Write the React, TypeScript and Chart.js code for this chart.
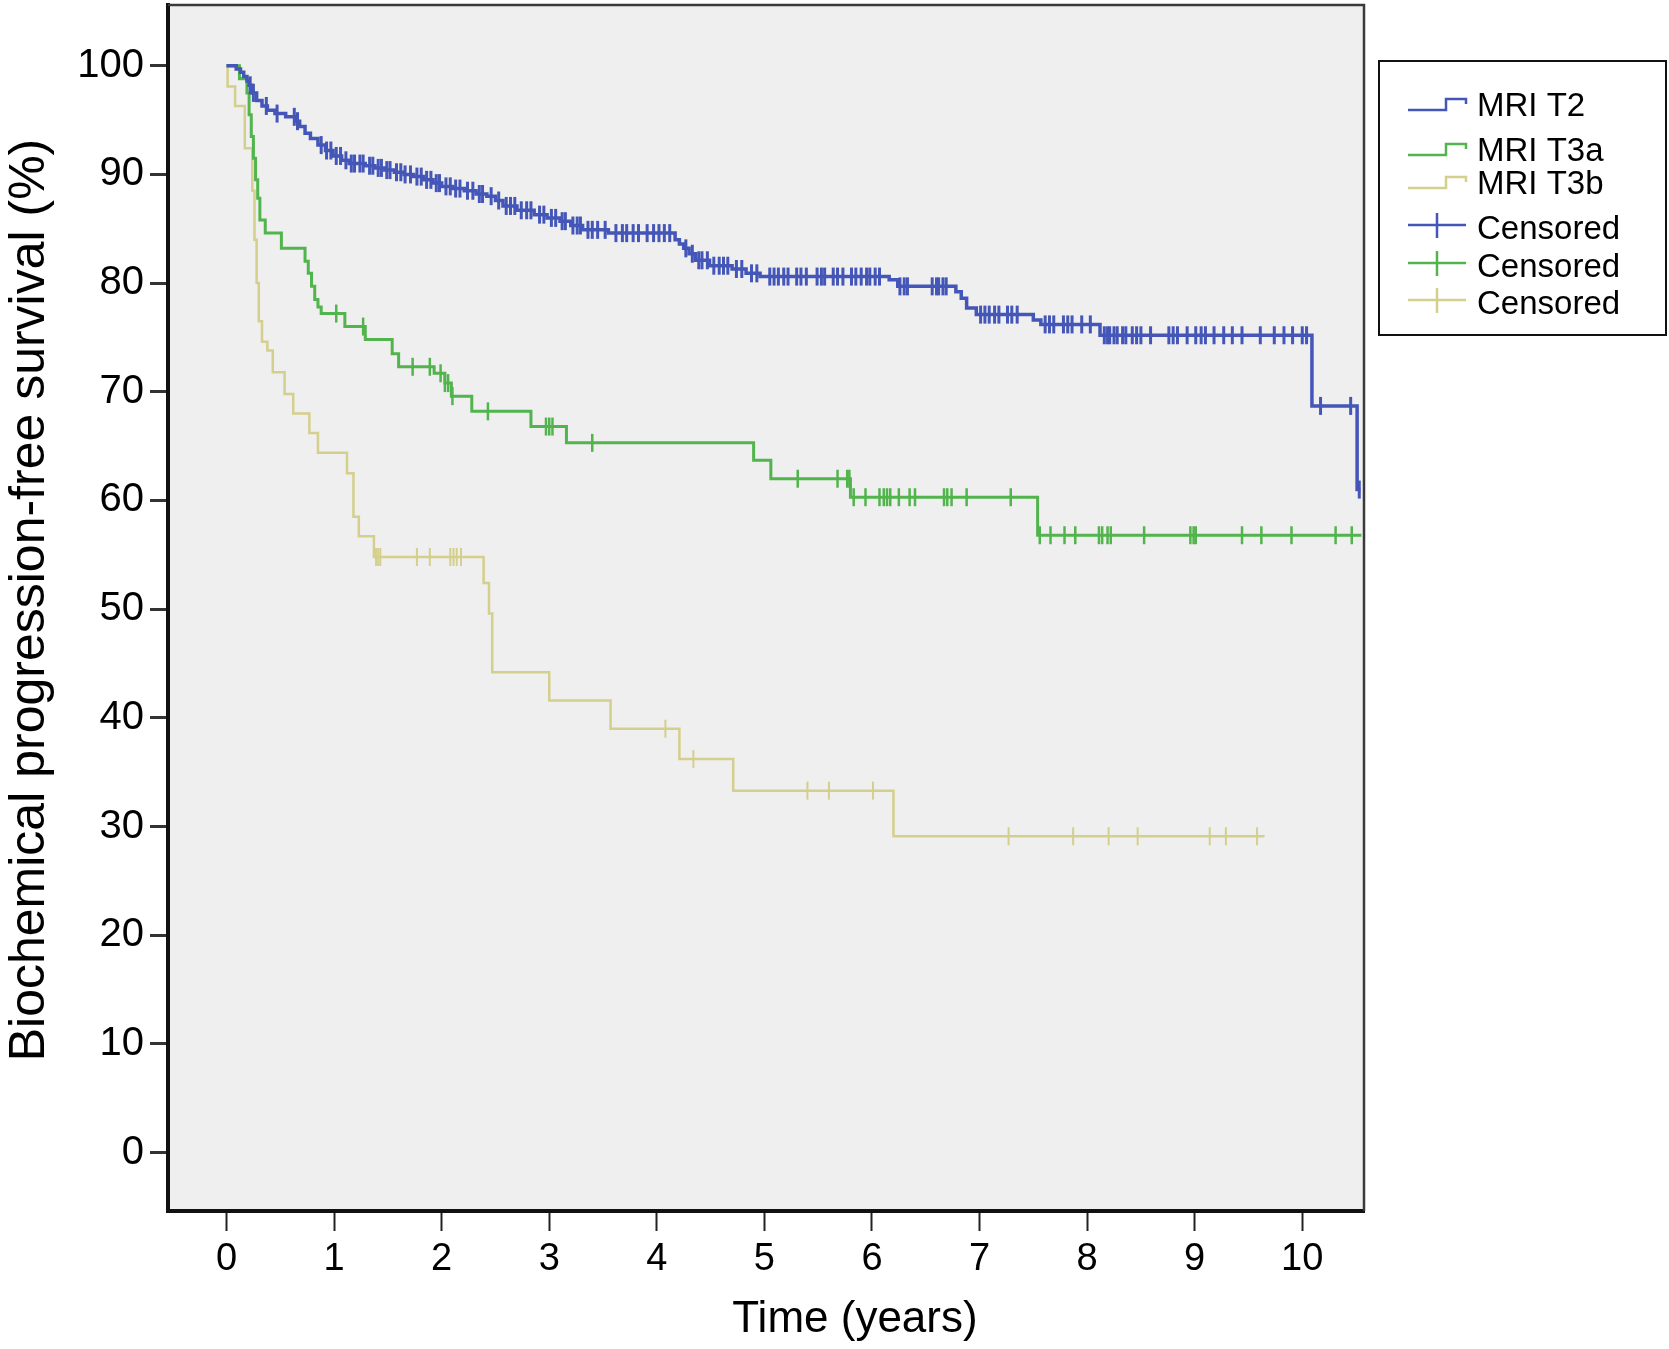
import { useEffect, useRef } from "react";
import { Chart, registerables } from "chart.js";

Chart.register(...registerables);

// Kaplan-Meier steps: time (years) where survival drops, and the new value (%)
const t2Times = [0, 0.09, 0.13, 0.16, 0.19, 0.21, 0.24, 0.28, 0.33, 0.38, 0.45, 0.55, 0.64, 0.68, 0.73, 0.78, 0.85, 0.92, 0.99, 1.07, 1.14, 1.29, 1.38, 1.47, 1.56, 1.65, 1.74, 1.83, 1.92, 2.0, 2.1, 2.21, 2.32, 2.42, 2.5, 2.57, 2.7, 2.86, 2.98, 3.1, 3.2, 3.31, 3.55, 4.17, 4.21, 4.25, 4.3, 4.36, 4.49, 4.7, 4.83, 4.96, 6.16, 6.24, 6.78, 6.83, 6.88, 6.97, 7.5, 7.57, 8.12, 10.09, 10.51];
const t2Values = [100, 99.7, 99.4, 99.0, 98.6, 98.2, 97.5, 96.8, 96.3, 95.9, 95.6, 95.3, 94.9, 94.4, 93.8, 93.3, 92.7, 92.2, 91.7, 91.3, 91.0, 90.8, 90.6, 90.4, 90.2, 90.0, 89.8, 89.5, 89.2, 88.9, 88.7, 88.5, 88.2, 88.0, 87.6, 87.1, 86.7, 86.3, 86.0, 85.7, 85.3, 84.9, 84.6, 84.0, 83.6, 83.2, 82.7, 82.1, 81.6, 81.3, 80.9, 80.6, 80.3, 79.7, 79.2, 78.6, 77.7, 77.1, 76.6, 76.2, 75.2, 68.7, 61.0];
const t2End = 10.54;

const t3aTimes = [0, 0.12, 0.19, 0.21, 0.23, 0.25, 0.27, 0.29, 0.31, 0.36, 0.51, 0.73, 0.76, 0.79, 0.82, 0.85, 0.88, 1.1, 1.29, 1.54, 1.6, 1.93, 2.03, 2.09, 2.28, 2.83, 3.16, 4.9, 5.06, 5.8, 7.54];
const t3aValues = [100, 98.8, 97.5, 95.5, 93.5, 91.5, 89.5, 87.8, 85.8, 84.6, 83.2, 82.0, 80.9, 79.7, 78.5, 77.8, 77.2, 76.0, 74.8, 73.5, 72.3, 71.7, 70.8, 69.6, 68.2, 66.8, 65.3, 63.7, 62.0, 60.3, 56.8];
const t3aEnd = 10.55;

const t3bTimes = [0, 0.01, 0.08, 0.17, 0.24, 0.26, 0.28, 0.3, 0.33, 0.38, 0.43, 0.54, 0.62, 0.77, 0.85, 1.12, 1.18, 1.23, 1.37, 2.39, 2.44, 2.47, 3.0, 3.57, 4.21, 4.71, 6.2];
const t3bValues = [100, 98.1, 96.3, 92.4, 88.5, 84.0, 80.0, 76.5, 74.6, 73.8, 71.8, 69.8, 68.0, 66.2, 64.4, 62.5, 58.5, 56.7, 54.8, 52.4, 49.6, 44.2, 41.6, 39.0, 36.2, 33.3, 29.1];
const t3bEnd = 9.65;

// Censored observations (years)
const t2Censored = [0.22, 0.25, 0.37, 0.47, 0.63, 0.66, 0.88, 0.93, 0.97, 1.02, 1.06, 1.11, 1.16, 1.19, 1.24, 1.27, 1.33, 1.36, 1.41, 1.44, 1.49, 1.52, 1.58, 1.62, 1.66, 1.71, 1.77, 1.81, 1.86, 1.9, 1.95, 1.98, 2.04, 2.08, 2.13, 2.17, 2.24, 2.29, 2.35, 2.38, 2.46, 2.53, 2.6, 2.64, 2.68, 2.74, 2.79, 2.83, 2.91, 2.95, 3.02, 3.06, 3.12, 3.15, 3.22, 3.26, 3.29, 3.36, 3.4, 3.45, 3.52, 3.62, 3.68, 3.72, 3.78, 3.83, 3.91, 3.97, 4.02, 4.07, 4.12, 4.27, 4.33, 4.39, 4.42, 4.47, 4.53, 4.58, 4.62, 4.66, 4.74, 4.79, 4.88, 4.93, 5.05, 5.09, 5.13, 5.18, 5.22, 5.3, 5.34, 5.39, 5.49, 5.53, 5.56, 5.64, 5.68, 5.73, 5.81, 5.85, 5.9, 5.95, 5.98, 6.03, 6.07, 6.26, 6.3, 6.33, 6.56, 6.6, 6.62, 6.66, 6.69, 7.01, 7.05, 7.09, 7.14, 7.18, 7.26, 7.3, 7.35, 7.61, 7.65, 7.69, 7.78, 7.82, 7.86, 7.95, 8.03, 8.16, 8.19, 8.21, 8.25, 8.28, 8.33, 8.36, 8.42, 8.46, 8.5, 8.59, 8.76, 8.8, 8.84, 8.93, 9.01, 9.06, 9.1, 9.18, 9.27, 9.35, 9.44, 9.61, 9.74, 9.83, 9.91, 10.0, 10.04, 10.17, 10.45, 10.53];
const t3aCensored = [1.02, 1.27, 1.73, 1.89, 1.99, 2.03, 2.06, 2.1, 2.43, 2.97, 3.0, 3.03, 3.4, 5.31, 5.68, 5.77, 5.79, 5.83, 5.94, 6.07, 6.11, 6.14, 6.17, 6.25, 6.35, 6.4, 6.67, 6.7, 6.74, 6.88, 7.29, 7.56, 7.66, 7.79, 7.89, 8.11, 8.14, 8.19, 8.22, 8.53, 8.96, 8.99, 9.01, 9.44, 9.62, 9.9, 10.31, 10.46];
const t3bCensored = [1.39, 1.41, 1.43, 1.77, 1.89, 2.08, 2.11, 2.14, 2.18, 4.08, 4.34, 5.4, 5.6, 6.01, 7.27, 7.87, 8.2, 8.47, 9.14, 9.29, 9.58];

const seriesNames = ["MRI T2", "MRI T3a", "MRI T3b"];
const seriesColors = ["#4456b7", "#52b44c", "#d4cf8c"];
const xTicks = [0, 1, 2, 3, 4, 5, 6, 7, 8, 9, 10];
const yTicks = [0, 10, 20, 30, 40, 50, 60, 70, 80, 90, 100];

const FONT = "'Liberation Sans', Arial, Helvetica, sans-serif";

const stepData = (times: number[], values: number[], end: number) => [
  ...times.map((t, i) => ({ x: t, y: values[i] })),
  { x: end, y: values[values.length - 1] },
];

const valueAt = (times: number[], values: number[], t: number) => {
  let v = values[0];
  for (let i = 0; i < times.length; i++) if (times[i] <= t) v = values[i];
  return v;
};

const censorData = (times: number[], values: number[], cens: number[]) =>
  cens.map((t) => ({ x: t, y: valueAt(times, values, t) }));

// background, top/right frame, axis titles and the SPSS-style legend box
const decorPlugin = {
  id: "kmDecor",
  beforeDraw(chart: Chart) {
    const { ctx, chartArea: a } = chart;
    ctx.save();
    ctx.fillStyle = "#efefef";
    ctx.fillRect(a.left, a.top, a.right - a.left, a.bottom - a.top);
    ctx.restore();
  },
  afterDraw(chart: Chart) {
    const { ctx, chartArea: a } = chart;
    ctx.save();
    ctx.strokeStyle = "#3a3a3a";
    ctx.lineWidth = 2.5;
    ctx.beginPath();
    ctx.moveTo(a.left, a.top);
    ctx.lineTo(a.right, a.top);
    ctx.lineTo(a.right, a.bottom);
    ctx.stroke();

    // axis titles
    ctx.fillStyle = "#000";
    ctx.font = `50px ${FONT}`;
    ctx.textAlign = "center";
    ctx.textBaseline = "middle";
    ctx.translate(30, 600);
    ctx.rotate(-Math.PI / 2);
    ctx.fillText("Biochemical progression-free survival (%)", 0, 0);
    ctx.rotate(Math.PI / 2);
    ctx.translate(-30, -600);
    ctx.font = `44px ${FONT}`;
    ctx.textBaseline = "alphabetic";
    ctx.fillText("Time (years)", 855, 1332);

    // legend
    ctx.strokeStyle = "#111";
    ctx.lineWidth = 2;
    ctx.strokeRect(1379, 61, 287, 274);
    ctx.font = `33px ${FONT}`;
    ctx.textAlign = "left";
    ctx.textBaseline = "middle";
    const lineRows = [107, 152, 185];
    lineRows.forEach((c, i) => {
      ctx.strokeStyle = seriesColors[i];
      ctx.lineWidth = 2.5;
      ctx.beginPath();
      ctx.moveTo(1408, c + 3);
      ctx.lineTo(1446, c + 3);
      ctx.lineTo(1446, c - 8);
      ctx.lineTo(1466, c - 8);
      ctx.lineTo(1466, c - 3);
      ctx.stroke();
      ctx.fillStyle = "#000";
      ctx.fillText(seriesNames[i], 1477, c);
    });
    const censRows = [230, 268, 305];
    censRows.forEach((c, i) => {
      ctx.strokeStyle = seriesColors[i];
      ctx.lineWidth = 2.5;
      ctx.beginPath();
      ctx.moveTo(1408, c - 5);
      ctx.lineTo(1466, c - 5);
      ctx.moveTo(1437, c - 17);
      ctx.lineTo(1437, c + 8);
      ctx.stroke();
      ctx.fillStyle = "#000";
      ctx.fillText("Censored", 1477, c);
    });
    ctx.restore();
  },
};

export default function App() {
  const canvasRef = useRef<HTMLCanvasElement>(null);
  const chartRef = useRef<Chart | null>(null);

  useEffect(() => {
    document.body.style.margin = "0";
    document.body.style.background = "#fff";
    if (!canvasRef.current) return;
    if (chartRef.current) chartRef.current.destroy();

    const lineSet = (i: number, data: { x: number; y: number }[], width: number) => ({
      type: "line" as const,
      label: seriesNames[i],
      data,
      borderColor: seriesColors[i],
      borderWidth: width,
      stepped: true,
      pointRadius: 0,
      fill: false,
    });
    const censSet = (i: number, data: { x: number; y: number }[], width: number) => ({
      type: "line" as const,
      label: "Censored",
      data,
      showLine: false,
      pointStyle: "line" as const,
      rotation: 90,
      pointRadius: 9,
      pointBorderWidth: width,
      borderColor: seriesColors[i],
      pointBorderColor: seriesColors[i],
      backgroundColor: seriesColors[i],
    });

    chartRef.current = new Chart(canvasRef.current, {
      type: "line",
      data: {
        datasets: [
          censSet(0, censorData(t2Times, t2Values, t2Censored), 3),
          lineSet(0, stepData(t2Times, t2Values, t2End), 3.5),
          censSet(1, censorData(t3aTimes, t3aValues, t3aCensored), 2.5),
          lineSet(1, stepData(t3aTimes, t3aValues, t3aEnd), 3),
          censSet(2, censorData(t3bTimes, t3bValues, t3bCensored), 2),
          lineSet(2, stepData(t3bTimes, t3bValues, t3bEnd), 2.5),
        ],
      },
      options: {
        animation: false,
        responsive: true,
        maintainAspectRatio: false,
        layout: { autoPadding: false, padding: { top: 5, right: 305, left: 0, bottom: 0 } },
        plugins: {
          legend: { display: false },
          tooltip: { enabled: false },
        },
        scales: {
          x: {
            type: "linear",
            min: -0.544,
            max: 10.574,
            afterBuildTicks: (scale: any) => {
              scale.ticks = xTicks.map((v) => ({ value: v }));
            },
            afterFit: (scale: any) => {
              scale.height = 138;
              scale.paddingLeft = 0;
              scale.paddingRight = 0;
            },
            grid: {
              drawOnChartArea: false,
              drawTicks: true,
              tickLength: 20,
              tickColor: "#222",
              tickWidth: 2,
            },
            border: { display: true, color: "#111", width: 4 },
            ticks: {
              color: "#000",
              padding: 6,
              font: { family: FONT, size: 38 },
              maxRotation: 0,
            },
          },
          y: {
            type: "linear",
            min: -5.38,
            max: 105.59,
            afterBuildTicks: (scale: any) => {
              scale.ticks = yTicks.map((v) => ({ value: v }));
            },
            afterFit: (scale: any) => {
              scale.width = 168;
              scale.paddingTop = 0;
              scale.paddingBottom = 0;
            },
            grid: {
              drawOnChartArea: false,
              drawTicks: true,
              tickLength: 18,
              tickColor: "#333",
              tickWidth: 3,
            },
            border: { display: true, color: "#111", width: 4 },
            ticks: {
              color: "#000",
              padding: 6,
              font: { family: FONT, size: 40 },
            },
          },
        },
      },
      plugins: [decorPlugin],
    });

    return () => {
      if (chartRef.current) {
        chartRef.current.destroy();
        chartRef.current = null;
      }
    };
  }, []);

  return (
    <div style={{ width: "1669px", height: "1349px", position: "relative" }}>
      <canvas ref={canvasRef}></canvas>
    </div>
  );
}
